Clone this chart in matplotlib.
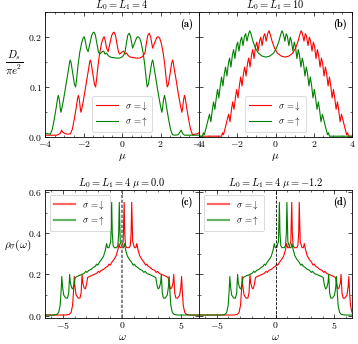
import numpy as np
import matplotlib.pyplot as plt
from matplotlib.ticker import MultipleLocator

plt.rcParams['font.family'] = 'cmr10'
plt.rcParams['mathtext.fontset'] = 'cm'
plt.rcParams['axes.formatter.use_mathtext'] = True
plt.rcParams['font.size'] = 7
plt.rcParams['axes.linewidth'] = 0.6

# (a) L0 = L1 = 4 : Drude weight vs mu
a_up = [(-4.00, .007), (-3.85, .006), (-3.72, .005), (-3.62, .015), (-3.52, .035), (-3.42, .058),
        (-3.35, .076), (-3.31, .083), (-3.26, .075), (-3.20, .055), (-3.17, .049), (-3.12, .058),
        (-3.05, .072), (-2.97, .090), (-2.88, .112), (-2.78, .135), (-2.72, .150), (-2.69, .154),
        (-2.64, .148), (-2.55, .125), (-2.47, .105), (-2.41, .100), (-2.36, .115), (-2.28, .145),
        (-2.20, .168), (-2.10, .188), (-2.02, .198), (-1.97, .201), (-1.92, .195), (-1.84, .178),
        (-1.76, .171), (-1.68, .185), (-1.58, .203), (-1.50, .209), (-1.45, .210), (-1.38, .204),
        (-1.30, .186), (-1.22, .170), (-1.16, .166), (-1.05, .170), (-0.95, .172), (-0.88, .166),
        (-0.80, .168), (-0.72, .163), (-0.60, .160), (-0.45, .159), (-0.30, .158), (-0.12, .158),
        (0.03, .161), (0.15, .168), (0.22, .186), (0.30, .204), (0.38, .208), (0.45, .200),
        (0.55, .178), (0.65, .188), (0.76, .199), (0.83, .201), (0.92, .198), (1.00, .188),
        (1.10, .168), (1.18, .145), (1.26, .115), (1.31, .100), (1.37, .105), (1.45, .125),
        (1.54, .148), (1.59, .154), (1.62, .150), (1.68, .135), (1.78, .112), (1.87, .090),
        (1.95, .072), (2.02, .058), (2.07, .049), (2.10, .055), (2.16, .075), (2.21, .083),
        (2.25, .076), (2.32, .058), (2.42, .035), (2.52, .015), (2.62, .004), (2.75, .003),
        (2.92, .004), (3.02, .010), (3.08, .013), (3.15, .006), (3.25, .003), (3.50, .003), (4.00, .003)]
a_dn = [(-4.00, .003), (-3.40, .003), (-3.22, .006), (-3.14, .013), (-3.08, .009), (-2.95, .006),
        (-2.80, .005), (-2.68, .006), (-2.58, .015), (-2.48, .035), (-2.38, .058), (-2.31, .076),
        (-2.27, .083), (-2.22, .075), (-2.16, .055), (-2.13, .049), (-2.08, .058), (-2.01, .072),
        (-1.93, .090), (-1.84, .112), (-1.74, .135), (-1.68, .150), (-1.65, .154), (-1.60, .148),
        (-1.51, .125), (-1.43, .105), (-1.37, .100), (-1.32, .115), (-1.24, .145), (-1.16, .168),
        (-1.06, .188), (-0.98, .198), (-0.93, .201), (-0.88, .195), (-0.80, .178), (-0.72, .171),
        (-0.64, .185), (-0.54, .203), (-0.46, .209), (-0.41, .210), (-0.34, .204), (-0.26, .186),
        (-0.18, .170), (-0.12, .166), (-0.01, .170), (0.09, .172), (0.16, .166), (0.24, .168),
        (0.32, .163), (0.44, .160), (0.59, .159), (0.74, .158), (0.92, .158), (1.07, .161),
        (1.19, .168), (1.26, .186), (1.34, .204), (1.42, .208), (1.49, .200), (1.59, .178),
        (1.69, .188), (1.80, .199), (1.87, .201), (1.96, .198), (2.04, .188), (2.14, .168),
        (2.22, .145), (2.30, .115), (2.35, .100), (2.41, .105), (2.49, .125), (2.58, .148),
        (2.63, .154), (2.66, .150), (2.72, .135), (2.82, .112), (2.91, .090), (2.99, .072),
        (3.06, .058), (3.11, .049), (3.14, .055), (3.20, .075), (3.25, .083), (3.29, .076),
        (3.36, .058), (3.46, .035), (3.56, .015), (3.66, .004), (3.80, .005), (3.92, .006), (4.00, .008)]

# (b) L0 = L1 = 10
b_up = [(-4.00, .001), (-3.82, .001), (-3.77, .008), (-3.72, .004), (-3.60, .022), (-3.50, .038),
        (-3.45, .045), (-3.38, .030), (-3.30, .055), (-3.24, .070), (-3.17, .055), (-3.09, .080),
        (-3.03, .095), (-2.96, .078), (-2.88, .105), (-2.82, .120), (-2.75, .102), (-2.67, .128),
        (-2.61, .140), (-2.54, .122), (-2.46, .148), (-2.40, .158), (-2.33, .140), (-2.25, .165),
        (-2.19, .175), (-2.12, .157), (-2.04, .182), (-1.98, .190), (-1.91, .172), (-1.83, .193),
        (-1.77, .200), (-1.70, .183), (-1.62, .202), (-1.56, .207), (-1.49, .192), (-1.40, .208),
        (-1.34, .213), (-1.27, .205), (-1.18, .192), (-1.05, .178), (-0.90, .168), (-0.70, .162),
        (-0.50, .160), (-0.30, .162), (-0.10, .168), (0.05, .178), (0.18, .192), (0.27, .205),
        (0.34, .213), (0.40, .208), (0.49, .192), (0.56, .207), (0.62, .202), (0.70, .183),
        (0.77, .200), (0.83, .193), (0.91, .172), (0.98, .190), (1.04, .182), (1.12, .157),
        (1.19, .175), (1.25, .165), (1.33, .140), (1.40, .158), (1.46, .148), (1.54, .122),
        (1.61, .140), (1.67, .128), (1.75, .102), (1.82, .120), (1.88, .105), (1.96, .078),
        (2.03, .095), (2.09, .080), (2.17, .055), (2.24, .070), (2.30, .055), (2.38, .030),
        (2.45, .045), (2.50, .038), (2.60, .022), (2.72, .004), (2.77, .008), (2.82, .001), (4.00, .001)]
b_dn = [(-4.00, .001), (-2.82, .001), (-2.77, .008), (-2.72, .004), (-2.60, .022), (-2.50, .038),
        (-2.45, .045), (-2.38, .030), (-2.30, .055), (-2.24, .070), (-2.17, .055), (-2.09, .080),
        (-2.03, .095), (-1.96, .078), (-1.88, .105), (-1.82, .120), (-1.75, .102), (-1.67, .128),
        (-1.61, .140), (-1.54, .122), (-1.46, .148), (-1.40, .158), (-1.33, .140), (-1.25, .165),
        (-1.19, .175), (-1.12, .157), (-1.04, .182), (-0.98, .190), (-0.91, .172), (-0.83, .193),
        (-0.77, .200), (-0.70, .183), (-0.62, .202), (-0.56, .207), (-0.49, .192), (-0.40, .208),
        (-0.34, .213), (-0.27, .205), (-0.18, .192), (-0.05, .178), (0.10, .168), (0.30, .162),
        (0.50, .160), (0.70, .162), (0.90, .168), (1.05, .178), (1.18, .192), (1.27, .205),
        (1.34, .213), (1.40, .208), (1.49, .192), (1.56, .207), (1.62, .202), (1.70, .183),
        (1.77, .200), (1.83, .193), (1.91, .172), (1.98, .190), (2.04, .182), (2.12, .157),
        (2.19, .175), (2.25, .165), (2.33, .140), (2.40, .158), (2.46, .148), (2.54, .122),
        (2.61, .140), (2.67, .128), (2.75, .102), (2.82, .120), (2.88, .105), (2.96, .078),
        (3.03, .095), (3.09, .080), (3.17, .055), (3.24, .070), (3.30, .055), (3.38, .030),
        (3.45, .045), (3.50, .038), (3.60, .022), (3.72, .004), (3.77, .008), (3.82, .001), (4.00, .001)]

# (c) density of states, mu = 0.0
c_up = [(-6.50, .003), (-5.80, .003), (-5.50, .006), (-5.35, .015), (-5.22, .05), (-5.14, .12),
        (-5.08, .19), (-5.02, .14), (-4.92, .10), (-4.75, .085), (-4.60, .085), (-4.50, .11),
        (-4.42, .20), (-4.36, .16), (-4.25, .135), (-4.15, .13), (-4.05, .15), (-3.95, .185),
        (-3.80, .19), (-3.60, .195), (-3.40, .20), (-3.20, .205), (-3.05, .215), (-2.95, .21),
        (-2.80, .22), (-2.60, .225), (-2.40, .235), (-2.25, .24), (-2.15, .25), (-2.05, .245),
        (-1.90, .26), (-1.70, .275), (-1.55, .29), (-1.40, .32), (-1.30, .35), (-1.22, .33),
        (-1.10, .33), (-0.95, .36), (-0.87, .55), (-0.82, .40), (-0.75, .34), (-0.65, .33),
        (-0.55, .33), (-0.45, .33), (-0.35, .34), (-0.28, .40), (-0.23, .55), (-0.15, .36),
        (0.00, .33), (0.12, .33), (0.20, .35), (0.30, .32), (0.45, .29), (0.60, .275),
        (0.80, .26), (0.95, .245), (1.05, .25), (1.15, .24), (1.30, .235), (1.50, .225),
        (1.70, .22), (1.85, .21), (1.95, .215), (2.10, .205), (2.30, .20), (2.50, .195),
        (2.70, .19), (2.85, .185), (2.95, .15), (3.05, .13), (3.15, .135), (3.26, .16),
        (3.32, .20), (3.40, .11), (3.50, .085), (3.65, .085), (3.82, .10), (3.92, .14),
        (3.98, .19), (4.04, .12), (4.12, .05), (4.25, .015), (4.40, .006), (4.70, .003), (6.50, .003)]
c_dn = [(-6.50, .003), (-4.75, .003), (-4.45, .006), (-4.30, .015), (-4.17, .05), (-4.09, .12),
        (-4.03, .19), (-3.97, .14), (-3.87, .10), (-3.70, .085), (-3.55, .085), (-3.45, .11),
        (-3.37, .20), (-3.31, .16), (-3.20, .135), (-3.10, .13), (-3.00, .15), (-2.90, .185),
        (-2.75, .19), (-2.55, .195), (-2.35, .20), (-2.15, .205), (-2.00, .215), (-1.90, .21),
        (-1.75, .22), (-1.55, .225), (-1.35, .235), (-1.20, .24), (-1.10, .25), (-1.00, .245),
        (-0.85, .26), (-0.65, .275), (-0.50, .29), (-0.35, .32), (-0.25, .35), (-0.17, .33),
        (-0.05, .33), (0.10, .36), (0.18, .55), (0.23, .40), (0.30, .34), (0.40, .33),
        (0.50, .33), (0.60, .33), (0.70, .34), (0.77, .40), (0.82, .55), (0.90, .36),
        (1.05, .33), (1.17, .33), (1.25, .35), (1.35, .32), (1.50, .29), (1.65, .275),
        (1.85, .26), (2.00, .245), (2.10, .25), (2.20, .24), (2.35, .235), (2.55, .225),
        (2.75, .22), (2.90, .21), (3.00, .215), (3.15, .205), (3.35, .20), (3.55, .195),
        (3.75, .19), (3.90, .185), (4.00, .15), (4.10, .13), (4.20, .135), (4.31, .16),
        (4.37, .20), (4.45, .11), (4.55, .085), (4.70, .085), (4.87, .10), (4.97, .14),
        (5.03, .19), (5.09, .12), (5.17, .05), (5.30, .015), (5.45, .006), (5.75, .003), (6.50, .003)]

# (d) density of states, mu = -1.2
d_up = [(-6.50, .003), (-4.60, .003), (-4.30, .006), (-4.15, .015), (-4.02, .05), (-3.94, .12),
        (-3.88, .19), (-3.82, .14), (-3.72, .10), (-3.55, .085), (-3.40, .085), (-3.30, .11),
        (-3.22, .20), (-3.16, .16), (-3.05, .135), (-2.95, .13), (-2.85, .15), (-2.75, .185),
        (-2.60, .19), (-2.40, .195), (-2.20, .20), (-2.00, .205), (-1.85, .215), (-1.75, .21),
        (-1.60, .22), (-1.40, .225), (-1.20, .235), (-1.05, .24), (-0.95, .25), (-0.85, .245),
        (-0.70, .26), (-0.50, .275), (-0.35, .29), (-0.20, .32), (-0.10, .35), (-0.02, .33),
        (0.10, .33), (0.25, .36), (0.33, .55), (0.38, .40), (0.45, .34), (0.55, .33),
        (0.65, .33), (0.75, .33), (0.85, .34), (0.92, .40), (0.97, .55), (1.05, .36),
        (1.20, .33), (1.32, .33), (1.40, .35), (1.50, .32), (1.65, .29), (1.80, .275),
        (2.00, .26), (2.15, .245), (2.25, .25), (2.35, .24), (2.50, .235), (2.70, .225),
        (2.90, .22), (3.05, .21), (3.15, .215), (3.30, .205), (3.50, .20), (3.70, .195),
        (3.90, .19), (4.05, .185), (4.15, .15), (4.25, .13), (4.35, .135), (4.46, .16),
        (4.52, .20), (4.60, .11), (4.70, .085), (4.85, .085), (5.02, .10), (5.12, .14),
        (5.18, .19), (5.24, .12), (5.32, .05), (5.45, .015), (5.60, .006), (5.90, .003), (6.50, .003)]
d_dn = [(-6.50, .003), (-3.55, .003), (-3.25, .006), (-3.10, .015), (-2.97, .05), (-2.89, .12),
        (-2.83, .19), (-2.77, .14), (-2.67, .10), (-2.50, .085), (-2.35, .085), (-2.25, .11),
        (-2.17, .20), (-2.11, .16), (-2.00, .135), (-1.90, .13), (-1.80, .15), (-1.70, .185),
        (-1.55, .19), (-1.35, .195), (-1.15, .20), (-0.95, .205), (-0.80, .215), (-0.70, .21),
        (-0.55, .22), (-0.35, .225), (-0.15, .235), (0.00, .24), (0.10, .25), (0.20, .245),
        (0.35, .26), (0.55, .275), (0.70, .29), (0.85, .32), (0.95, .35), (1.03, .33),
        (1.15, .33), (1.30, .36), (1.38, .55), (1.43, .40), (1.50, .34), (1.60, .33),
        (1.70, .33), (1.80, .33), (1.90, .34), (1.97, .40), (2.02, .55), (2.10, .36),
        (2.25, .33), (2.37, .33), (2.45, .35), (2.55, .32), (2.70, .29), (2.85, .275),
        (3.05, .26), (3.20, .245), (3.30, .25), (3.40, .24), (3.55, .235), (3.75, .225),
        (3.95, .22), (4.10, .21), (4.20, .215), (4.35, .205), (4.55, .20), (4.75, .195),
        (4.95, .19), (5.10, .185), (5.20, .15), (5.30, .13), (5.40, .135), (5.51, .16),
        (5.57, .20), (5.65, .11), (5.75, .085), (5.90, .085), (6.07, .10), (6.17, .14),
        (6.23, .19), (6.29, .12), (6.37, .05), (6.50, .015)]

titles = [r'$L_0 = L_1 = 4$', r'$L_0 = L_1 = 10$',
          r'$L_0 = L_1 = 4\ \mu = 0.0$', r'$L_0 = L_1 = 4\ \mu = -1.2$']
tags = ['(a)', '(b)', '(c)', '(d)']
lab_dn = r'$\sigma$ =$\downarrow$'
lab_up = r'$\sigma$ =$\uparrow$'

W, H = 358, 344
fig = plt.figure(figsize=(W / 100, H / 100), dpi=100)
ax_a = fig.add_axes([45 / W, 1 - 136.7 / H, 154 / W, 124.4 / H])
ax_b = fig.add_axes([199 / W, 1 - 136.7 / H, 153 / W, 124.4 / H], sharey=ax_a)
ax_c = fig.add_axes([45 / W, 1 - 317.7 / H, 154 / W, 127.7 / H])
ax_d = fig.add_axes([199 / W, 1 - 317.7 / H, 153 / W, 127.7 / H], sharey=ax_c)
axes = [ax_a, ax_b, ax_c, ax_d]
series = [(a_dn, a_up), (b_dn, b_up), (c_dn, c_up), (d_dn, d_up)]

for i, ax in enumerate(axes):
    dn = np.array(series[i][0]).T
    up = np.array(series[i][1]).T
    ax.plot(dn[0], dn[1], color='red', lw=0.8, label=lab_dn)
    ax.plot(up[0], up[1], color='green', lw=0.8, label=lab_up)
    ax.set_title(titles[i], fontsize=7.5, pad=1.5)
    ax.text(0.92, 0.9, tags[i], transform=ax.transAxes, fontfamily='cmb10',
            fontsize=7.5, ha='center', va='center')
    ax.tick_params(which='both', direction='in', top=True, right=True, labelsize=7, pad=2)
    ax.tick_params(which='major', length=3, width=0.5)
    ax.tick_params(which='minor', length=1.5, width=0.4)

for ax in (ax_a, ax_b):
    ax.set_xlim(-4, 4)
    ax.set_ylim(0, 0.25)
    ax.xaxis.set_major_locator(MultipleLocator(2))
    ax.xaxis.set_minor_locator(MultipleLocator(0.5))
    ax.yaxis.set_major_locator(MultipleLocator(0.1))
    ax.yaxis.set_minor_locator(MultipleLocator(0.05))
    ax.set_xlabel(r'$\mu$', fontsize=8, labelpad=1)
    leg = ax.legend(loc='lower center', bbox_to_anchor=(0.5, 0.0), fontsize=6.5,
                    handlelength=2.4, borderpad=0.45, labelspacing=0.35, framealpha=1,
                    edgecolor='0.8', fancybox=True)
    leg.get_frame().set_linewidth(0.5)

for ax in (ax_c, ax_d):
    ax.set_xlim(-6.5, 6.5)
    ax.set_ylim(-0.01, 0.61)
    ax.xaxis.set_major_locator(MultipleLocator(5))
    ax.xaxis.set_minor_locator(MultipleLocator(1))
    ax.yaxis.set_major_locator(MultipleLocator(0.2))
    ax.yaxis.set_minor_locator(MultipleLocator(0.1))
    ax.set_xlabel(r'$\omega$', fontsize=8, labelpad=1)
    leg = ax.legend(loc='upper left', fontsize=6.5, handlelength=2.4, borderpad=0.45,
                    labelspacing=0.35, framealpha=1, edgecolor='0.8', fancybox=True)
    leg.get_frame().set_linewidth(0.5)
    for h in leg.get_lines():
        h.set_linewidth(1.6)
        h.set_alpha(0.6)

ax_c.axvline(0, color='0.45', ls=(0, (2, 1)), lw=1.2)
ax_d.axvline(0, color='k', ls='--', lw=0.6)

plt.setp(ax_b.get_yticklabels(), visible=False)
plt.setp(ax_d.get_yticklabels(), visible=False)

ax_a.text(-0.2, 0.59, r'$\frac{D_s}{\pi e^2}$', transform=ax_a.transAxes,
          fontsize=11, ha='center', va='center')
ax_c.text(-0.18, 0.57, r'$\rho_\sigma(\omega)$', transform=ax_c.transAxes,
          fontsize=8, ha='center', va='center')

fig.savefig('out.png', dpi=100)
